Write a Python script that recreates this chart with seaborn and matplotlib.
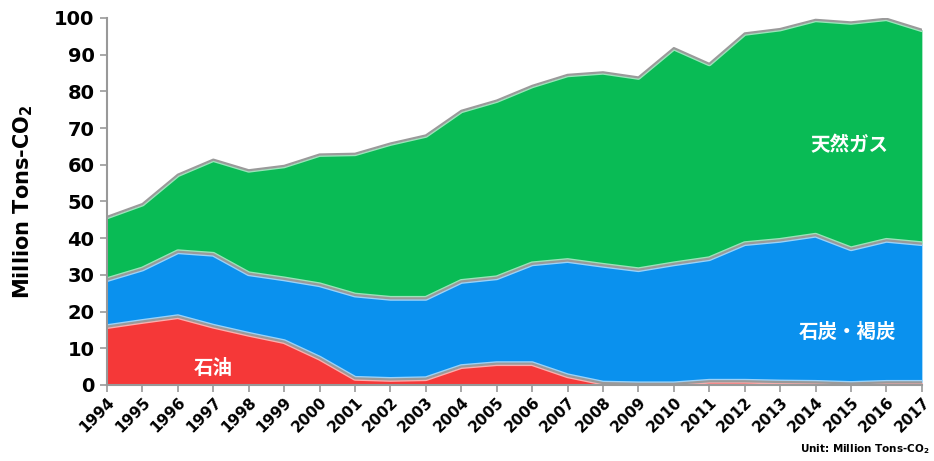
import numpy as np
import pandas as pd
import matplotlib
matplotlib.use("Agg")
import matplotlib.pyplot as plt
import seaborn as sns

years = list(range(1994, 2018))
oil = [15.9, 17.3, 18.6, 16.0, 13.8, 11.8, 7.3, 1.8, 1.5, 1.7, 5.0, 5.8,
       5.8, 2.5, 0.5, 0.3, 0.3, 1.0, 1.0, 0.8, 0.7, 0.4, 0.7, 0.7]
coal = [12.8, 14.3, 17.7, 19.6, 16.5, 17.1, 20.0, 22.7, 22.1, 21.9, 23.2, 23.4,
        27.2, 31.4, 32.1, 31.1, 32.7, 33.4, 37.5, 38.6, 40.1, 36.7, 38.7, 37.8]
gas = [17.1, 17.7, 21.0, 25.8, 28.2, 30.8, 35.5, 38.5, 42.2, 44.4, 46.5, 48.3,
       48.5, 50.6, 52.6, 52.4, 58.8, 53.1, 57.3, 57.6, 58.7, 61.7, 60.4, 58.3]
labels = ["石油", "石炭・褐炭", "天然ガス"]
colors = ["#F53838", "#0A91EE", "#09BB55"]
yticks = list(range(0, 101, 10))

sns.set_theme(style="white")
plt.rcParams['font.family'] = ['DejaVu Sans', 'Noto Sans CJK JP']
plt.rcParams['text.color'] = 'black'
plt.rcParams['axes.labelcolor'] = 'black'
plt.rcParams['xtick.color'] = 'black'
plt.rcParams['ytick.color'] = 'black'

fig = plt.figure(figsize=(9.34, 4.61), dpi=100)
ax = fig.add_axes([0.1146, 0.165, 0.8724, 0.796])

x = np.array(years)
stack = np.vstack([oil, coal, gas])
ax.stackplot(x, stack, colors=colors, linewidth=0)
cum = np.cumsum(stack, axis=0)

df = pd.DataFrame({"year": years})
for i, c in enumerate(colors):
    df["top"] = cum[i]
    sns.lineplot(data=df, x="year", y="top", ax=ax, color="white", lw=3.5, alpha=0.6)
    sns.lineplot(data=df, x="year", y="top", ax=ax, color="#9a9a9a", lw=1.6)

ax.set_xlim(1994, 2017)
ax.set_ylim(0, 100)
ax.set_xticks(years)
ax.set_xticklabels([str(y) for y in years], rotation=45, ha="right",
                   rotation_mode="anchor", fontsize=11, fontweight="bold")
ax.set_yticks(yticks)
ax.set_yticklabels([str(t) for t in yticks], fontsize=14, fontweight="bold")
ax.tick_params(axis="both", direction="out", length=5, color="#999999", width=1.2,
               bottom=True, left=True, pad=4)
ax.tick_params(axis="x", pad=2)
for s in ["top", "right"]:
    ax.spines[s].set_visible(False)
for s in ["left", "bottom"]:
    ax.spines[s].set_color("#999999")
    ax.spines[s].set_linewidth(1.5)
ax.set_xlabel("")
ax.set_ylabel("Million Tons-CO$_\\mathbf{2}$", fontsize=15, fontweight="bold", labelpad=14)

cjk = ['Noto Sans CJK JP', 'DejaVu Sans']
ax.text(1997.0, 4.6, labels[0], color="white", fontsize=14, fontweight="bold",
        family=cjk, ha="center", va="center")
ax.text(2014.9, 14.4, labels[1], color="white", fontsize=14, fontweight="bold",
        family=cjk, ha="center", va="center")
ax.text(2014.95, 65.1, labels[2], color="white", fontsize=14, fontweight="bold",
        family=cjk, ha="center", va="center")

fig.text(0.995, 0.01, "Unit: Million Tons-CO$_\\mathbf{2}$", fontsize=7.5,
         fontweight="bold", ha="right", va="bottom")

fig.savefig("out.png", dpi=100)
